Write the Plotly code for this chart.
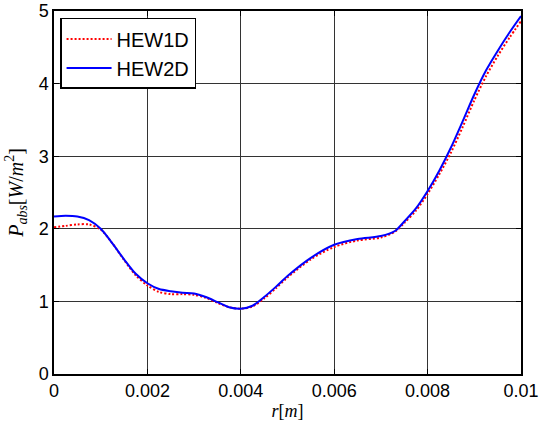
import plotly.graph_objects as go

r = [0, 0.00025, 0.0005, 0.00075, 0.001, 0.00125, 0.0015, 0.00175, 0.002, 0.00225,
     0.0025, 0.00275, 0.003, 0.00325, 0.0035, 0.00375, 0.004, 0.00425, 0.0045, 0.00475,
     0.005, 0.0055, 0.006, 0.0065, 0.007, 0.0073, 0.0075, 0.00775, 0.008, 0.00825,
     0.0085, 0.00875, 0.009, 0.00925, 0.0095, 0.00975, 0.01]

hew2d = [2.17, 2.18, 2.17, 2.12, 2.00, 1.80, 1.58, 1.38, 1.25, 1.17,
         1.14, 1.12, 1.11, 1.06, 0.99, 0.92, 0.90, 0.94, 1.06, 1.20,
         1.35, 1.60, 1.78, 1.86, 1.90, 1.97, 2.10, 2.28, 2.52, 2.80,
         3.12, 3.48, 3.85, 4.18, 4.45, 4.70, 4.93]

hew1d = [2.02, 2.04, 2.06, 2.06, 1.99, 1.80, 1.57, 1.36, 1.22, 1.13,
         1.10, 1.10, 1.09, 1.05, 0.98, 0.92, 0.90, 0.93, 1.04, 1.18,
         1.33, 1.58, 1.75, 1.84, 1.88, 1.96, 2.08, 2.25, 2.48, 2.75,
         3.05, 3.40, 3.77, 4.10, 4.38, 4.63, 4.86]

xticks = [0, 0.002, 0.004, 0.006, 0.008, 0.01]
xticklabels = ["0", "0.002", "0.004", "0.006", "0.008", "0.01"]
yticks = [0, 1, 2, 3, 4, 5]

fig = go.Figure()
fig.add_trace(go.Scatter(x=r, y=hew1d, mode="lines", name="HEW1D",
                         line=dict(color="red", width=2, dash="2px,2px", shape="spline", smoothing=0.8)))
fig.add_trace(go.Scatter(x=r, y=hew2d, mode="lines", name="HEW2D",
                         line=dict(color="blue", width=2, shape="spline", smoothing=0.8)))

axis_common = dict(showline=True, linecolor="black", linewidth=1.5, mirror="ticks",
                   ticks="inside", ticklen=5, tickcolor="black", automargin=False,
                   showgrid=True, gridcolor="#333333", gridwidth=1, zeroline=False,
                   tickfont=dict(family="Liberation Sans, Arial", size=18, color="black"))

fig.update_xaxes(range=[0, 0.01], tickvals=xticks, ticktext=xticklabels,
                 title=dict(text="<i>r</i>[<i>m</i>]", standoff=4,
                            font=dict(family="Liberation Serif, serif", size=18, color="black")),
                 **axis_common)
fig.update_yaxes(range=[0, 5], tickvals=yticks,
                 title=dict(text="<i>P</i><sub><i>abs</i></sub>[<i>W</i>/<i>m</i><sup>2</sup>]", standoff=10,
                            font=dict(family="Liberation Serif, serif", size=20, color="black")),
                 **axis_common)

fig.update_layout(width=540, height=428, margin=dict(l=54, r=19, t=11, b=54),
                  plot_bgcolor="white", paper_bgcolor="white",
                  legend=dict(x=0.013, y=0.981, xanchor="left", yanchor="top",
                              bgcolor="white", bordercolor="black", borderwidth=1.5,
                              itemwidth=45,
                              font=dict(family="Liberation Sans, Arial", size=20, color="black"),
                              tracegroupgap=0),
                  showlegend=True)

fig.write_html("out.html")
